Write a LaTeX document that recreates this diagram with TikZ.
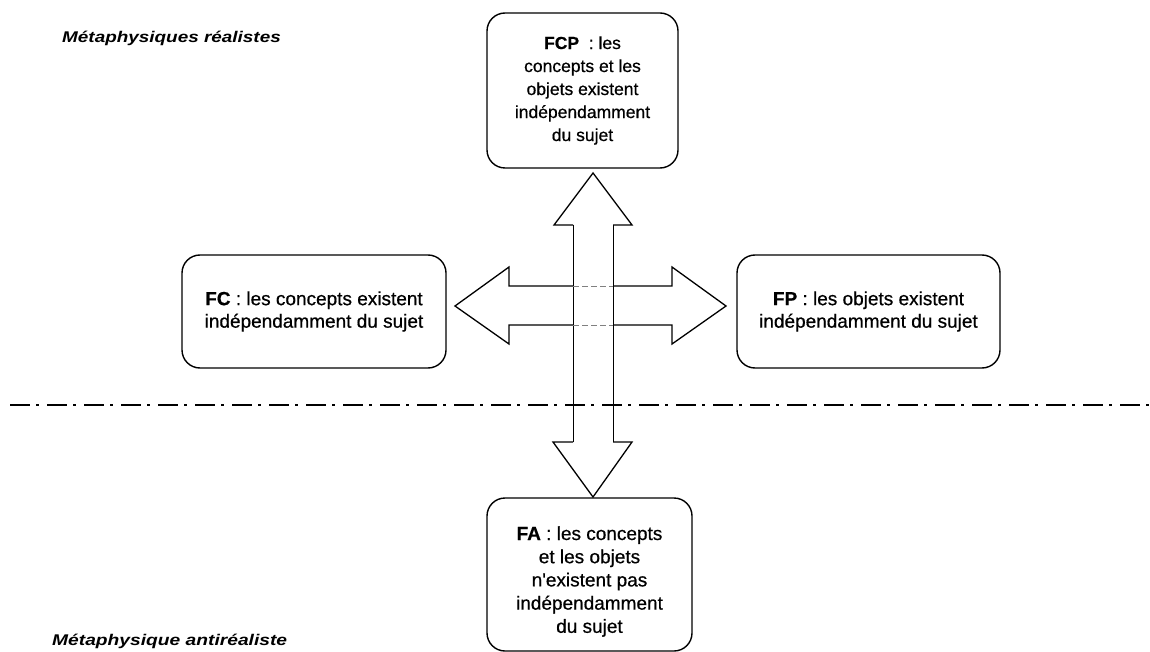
\documentclass[tikz,border=0pt]{standalone}
\usepackage{fontspec}
\setmainfont{Liberation Sans}
\newfontfamily\bodyfont{Liberation Sans}[FakeBold=0.6]
\usetikzlibrary{calc}
\begin{document}
\begin{tikzpicture}[x=1pt,y=-1pt,
  box/.style={draw=black, line width=1.4pt, rounded corners=18pt, align=center, inner sep=0pt, font=\bodyfont\fontsize{19}{22.5}\selectfont},
  txt/.style={inner sep=0pt, align=center, font=\bodyfont\fontsize{19}{23.2}\selectfont},
  arrowline/.style={line width=1.3pt, line join=miter},
  shaftline/.style={line width=1pt},
  hidden/.style={line width=0.6pt, gray, dash pattern=on 6pt off 3pt},
  sep/.style={line width=2.5pt, dash pattern=on 20pt off 6pt on 3pt off 8pt},
  title/.style={anchor=base west, inner sep=0pt, font=\fontsize{15.5}{18}\selectfont\bfseries\itshape}]
\useasboundingbox (0,0) rectangle (1150,652);

% separator
\draw[sep] (10,405) -- (1150,405);

% titles
\node[title] (t1) at (62,43) {\scalebox{1.22}[1]{Métaphysiques réalistes}};
\node[title] (t2) at (52,645) {\scalebox{1.24}[1]{Métaphysique antiréaliste}};

% boxes
\node[box, minimum width=191pt, minimum height=155pt, font=\bodyfont\fontsize{17.5}{23}\selectfont] (fcp) at (582.5,90.5)
  {\textbf{FCP}\ \ : les\\concepts et les\\objets existent\\indépendamment\\du sujet};
\node[box, minimum width=264pt, minimum height=113pt] (fc) at (314,311.5)
  {\textbf{FC} : les concepts existent\\indépendamment du sujet};
\node[box, minimum width=263pt, minimum height=113pt] (fp) at (868.5,311.5)
  {\textbf{FP} : les objets existent\\indépendamment du sujet};
\node[box, minimum width=205pt, minimum height=153pt] (fabox) at (589.5,574.5) {};
\node[txt] (fa) at (589.5,581.5)
  {\textbf{FA} : les concepts\\et les objets\\n'existent pas\\indépendamment\\du sujet};

% vertical double arrow
\draw[arrowline] (573,225) -- (554,225) -- (593,173) -- (632,225) -- (613,225);
\draw[arrowline] (613,442) -- (632,442) -- (593,497) -- (553,442) -- (573,442);
\draw[shaftline] (573,225) -- (573,442);
\draw[shaftline] (613,225) -- (613,442);

% horizontal double arrow
\draw[arrowline] (573,286) -- (509,286) -- (509,267) -- (455,306) -- (509,344) -- (509,325) -- (573,325);
\draw[arrowline] (613,286) -- (672,286) -- (672,267) -- (726,306) -- (672,344) -- (672,325) -- (613,325);
\draw[hidden] (573,286) -- (613,286);
\draw[hidden] (573,325) -- (613,325);
\end{tikzpicture}
\end{document}
